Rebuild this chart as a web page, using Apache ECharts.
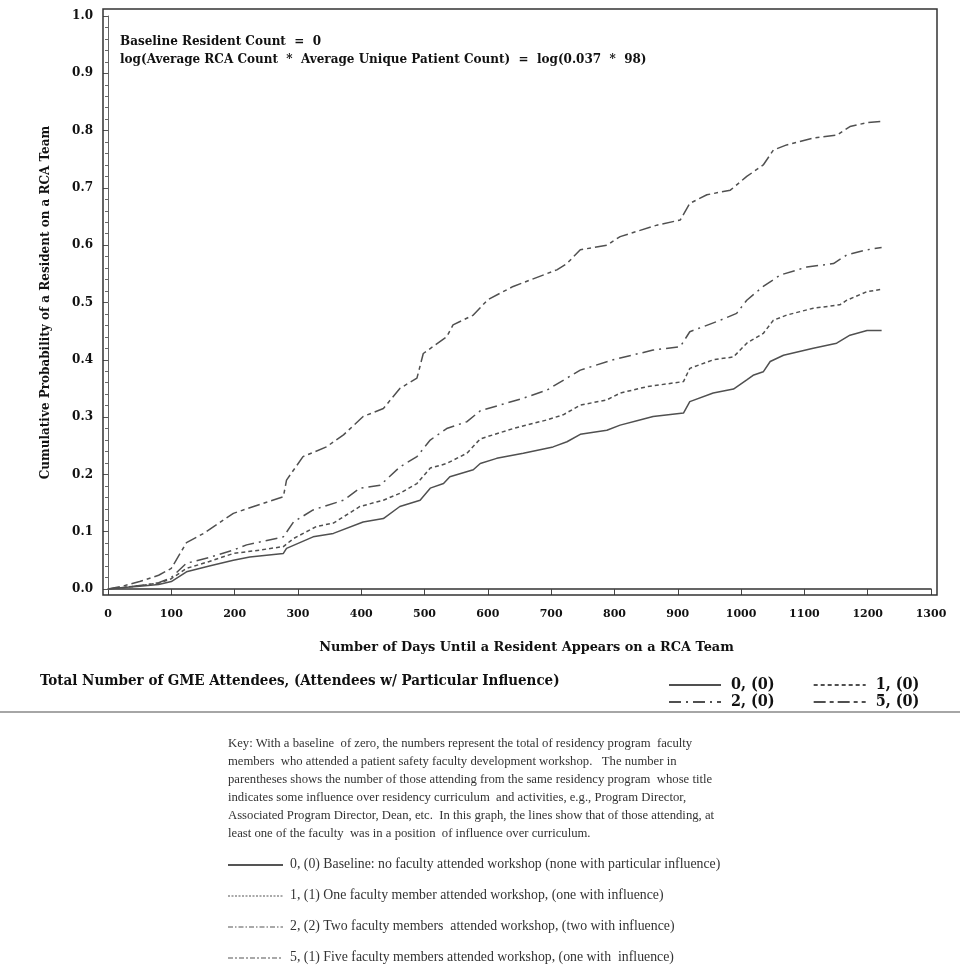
<!DOCTYPE html>
<html>
<head>
<meta charset="utf-8">
<script src="https://cdn.jsdelivr.net/npm/echarts@6/dist/echarts.min.js"></script>
<style>html,body{margin:0;padding:0;background:#fff;}#c{width:960px;height:974px;}</style>
</head>
<body>
<div id="c"></div>
<script>
// ---- data (day, cumulative probability) ----
var s0 = [[0,0],[20,0.002],[50,0.005],[80,0.008],[100,0.013],[124,0.030],[160,0.040],[198,0.050],[224,0.056],[277,0.062],[282,0.071],[324,0.091],[356,0.097],[403,0.117],[435,0.123],[461,0.144],[493,0.155],[509,0.176],[530,0.184],[540,0.196],[577,0.208],[588,0.219],[614,0.228],[656,0.237],[703,0.248],[725,0.257],[746,0.270],[788,0.277],[809,0.286],[840,0.295],[861,0.301],[909,0.307],[919,0.327],[956,0.342],[988,0.349],[1009,0.365],[1019,0.373],[1035,0.379],[1046,0.397],[1067,0.408],[1114,0.420],[1151,0.429],[1172,0.443],[1199,0.451],[1222,0.451]];
var s1 = [[0,0],[20,0.002],[50,0.006],[80,0.010],[100,0.018],[124,0.036],[160,0.048],[198,0.062],[240,0.068],[277,0.074],[293,0.088],[329,0.109],[356,0.115],[398,0.144],[435,0.155],[461,0.167],[488,0.184],[509,0.211],[535,0.219],[567,0.237],[588,0.262],[640,0.280],[693,0.295],[719,0.304],[746,0.321],[788,0.330],[809,0.342],[851,0.353],[909,0.362],[919,0.385],[956,0.400],[988,0.405],[1009,0.429],[1035,0.446],[1051,0.469],[1072,0.478],[1114,0.490],[1156,0.496],[1167,0.504],[1199,0.519],[1222,0.523]];
var s2 = [[0,0],[20,0.002],[50,0.006],[80,0.011],[100,0.020],[124,0.045],[160,0.055],[198,0.068],[219,0.077],[277,0.091],[293,0.117],[324,0.138],[372,0.155],[398,0.176],[430,0.181],[461,0.213],[488,0.231],[509,0.260],[535,0.280],[567,0.292],[588,0.311],[656,0.333],[693,0.347],[746,0.382],[798,0.400],[861,0.417],[904,0.423],[919,0.449],[967,0.469],[993,0.481],[1009,0.504],[1035,0.528],[1062,0.548],[1104,0.562],[1146,0.568],[1167,0.583],[1199,0.592],[1222,0.596]];
var s5 = [[0,0],[20,0.004],[50,0.013],[80,0.024],[100,0.036],[124,0.081],[151,0.097],[198,0.132],[230,0.144],[277,0.161],[282,0.190],[308,0.231],[345,0.248],[372,0.269],[403,0.301],[435,0.315],[461,0.350],[488,0.368],[498,0.411],[535,0.440],[545,0.461],[577,0.478],[600,0.505],[640,0.528],[709,0.557],[725,0.568],[746,0.592],[788,0.600],[809,0.615],[867,0.635],[904,0.644],[919,0.673],[946,0.688],[983,0.696],[1009,0.720],[1035,0.740],[1051,0.766],[1072,0.775],[1114,0.787],[1151,0.792],[1172,0.807],[1199,0.814],[1222,0.816]];
var seriesNames = ['0, (0)', '1, (0)', '2, (0)', '5, (0)'];
var xTitle = 'Number of Days Until a Resident Appears on a RCA Team';
var yTitle = 'Cumulative Probability of a Resident on a RCA Team';
var legendTitle = 'Total Number of GME Attendees, (Attendees w/ Particular Influence)';
var noteLines = ['Baseline Resident Count  =  0', 'log(Average RCA Count  *  Average Unique Patient Count)  =  log(0.037  *  98)'];
var keyLines = [
  'Key: With a baseline  of zero, the numbers represent the total of residency program  faculty',
  'members  who attended a patient safety faculty development workshop.   The number in',
  'parentheses shows the number of those attending from the same residency program  whose title',
  'indicates some influence over residency curriculum  and activities, e.g., Program Director,',
  'Associated Program Director, Dean, etc.  In this graph, the lines show that of those attending, at',
  'least one of the faculty  was in a position  of influence over curriculum.'
];
var keyEntries = [
  '0, (0) Baseline: no faculty attended workshop (none with particular influence)',
  '1, (1) One faculty member attended workshop, (one with influence)',
  '2, (2) Two faculty members  attended workshop, (two with influence)',
  '5, (1) Five faculty members attended workshop, (one with  influence)'
];

var SERIF = "'DejaVu Serif Condensed', 'DejaVu Serif', serif";
var DSERIF = "'DejaVu Serif', serif";
var TIMES = "'Liberation Serif', 'Times New Roman', serif";
var LC = '#505050';
var dashes = ['solid', [4, 3], [12, 5, 2, 5], [12, 4, 4, 4]];
var dataSets = [s0, s1, s2, s5];

var chart = echarts.init(document.getElementById('c'), null, {renderer: 'canvas'});

var series = dataSets.map(function (d, i) {
  return {
    name: seriesNames[i], type: 'line', data: d, showSymbol: false, symbol: 'none',
    xAxisIndex: 0, yAxisIndex: 0, silent: true, animation: false,
    lineStyle: {color: LC, width: 1.5, type: dashes[i]},
    itemStyle: {color: LC}
  };
});

var graphics = [];
noteLines.forEach(function (t, i) {
  graphics.push({type: 'text', left: 120, top: 36 + i * 18,
    style: {text: t, font: 'bold 12px ' + DSERIF, fill: '#111'}});
});
graphics.push({type: 'text', left: 40, top: 674,
  style: {text: legendTitle, font: 'bold 15px ' + SERIF, fill: '#111'}});
graphics.push({type: 'line', shape: {x1: 0, y1: 712, x2: 960, y2: 712},
  style: {stroke: '#888', lineWidth: 1.5}});
keyLines.forEach(function (t, i) {
  graphics.push({type: 'text', left: 228, top: 737 + i * 18,
    style: {text: t, font: '12.7px ' + TIMES, fill: '#333'}});
});
var keyDash = [null, [2, 1.5], [5, 2, 1.5, 2], [5, 2, 2, 2]];
keyEntries.forEach(function (t, i) {
  var y = 865 + i * 31;
  graphics.push({type: 'line', shape: {x1: 228, y1: y, x2: 283, y2: y},
    style: {stroke: '#555', lineWidth: i === 0 ? 1.8 : 1.1, lineDash: keyDash[i]}});
  graphics.push({type: 'text', left: 290, top: y - 8,
    style: {text: t, font: '13.8px ' + TIMES, fill: '#333'}});
});

var legendBase = {
  itemWidth: 52, itemHeight: 10, itemGap: 38, orient: 'horizontal',
  itemStyle: {opacity: 0},
  textStyle: {fontFamily: SERIF, fontWeight: 'bold', fontSize: 16, color: '#111', padding: [0, 0, 0, 5]},
  selectedMode: false
};
var legend1 = Object.assign({}, legendBase, {left: 663, top: 672, data: [seriesNames[0], seriesNames[1]]});
var legend2 = Object.assign({}, legendBase, {left: 663, top: 689, data: [seriesNames[2], seriesNames[3]]});

var option = {
  backgroundColor: '#fff',
  animation: false,
  grid: [
    {left: 108, right: 29, top: 16, bottom: 385, containLabel: false},
    {left: 103, right: 23, top: 9, bottom: 379, show: true, borderColor: '#333', borderWidth: 1.5, backgroundColor: 'transparent', z: 1}
  ],
  xAxis: [
    {type: 'value', gridIndex: 0, min: 0, max: 1300, interval: 100, offset: 6,
     axisLine: {show: true, lineStyle: {color: '#333', width: 1.5}},
     axisTick: {show: true, length: 6, lineStyle: {color: '#444'}},
     splitLine: {show: false},
     axisLabel: {fontFamily: DSERIF, fontWeight: 'bold', fontSize: 11, color: '#111', margin: 14,
       formatter: function (v) { return String(v); }},
     name: xTitle, nameLocation: 'middle', nameGap: 46,
     nameTextStyle: {fontFamily: DSERIF, fontWeight: 'bold', fontSize: 12.9, color: '#111', padding: [0, 0, 0, 14]}},
    {type: 'value', gridIndex: 1, show: false, min: 0, max: 1}
  ],
  yAxis: [
    {type: 'value', gridIndex: 0, min: 0, max: 1, interval: 0.1, offset: 8,
     axisLine: {show: true, lineStyle: {color: '#666', width: 1}},
     axisTick: {show: true, length: 5, lineStyle: {color: '#555'}},
     minorTick: {show: true, splitNumber: 5, length: 3, lineStyle: {color: '#666'}},
     splitLine: {show: false},
     axisLabel: {fontFamily: DSERIF, fontWeight: 'bold', fontSize: 12, color: '#111', margin: 7,
       formatter: function (v) { return v.toFixed(1); }},
     name: yTitle, nameLocation: 'middle', nameGap: 48,
     nameTextStyle: {fontFamily: DSERIF, fontWeight: 'bold', fontSize: 12, color: '#111'}},
    {type: 'value', gridIndex: 1, show: false, min: 0, max: 1}
  ],
  legend: [legend1, legend2],
  series: series,
  graphic: graphics
};
chart.setOption(option);
</script>
</body>
</html>
